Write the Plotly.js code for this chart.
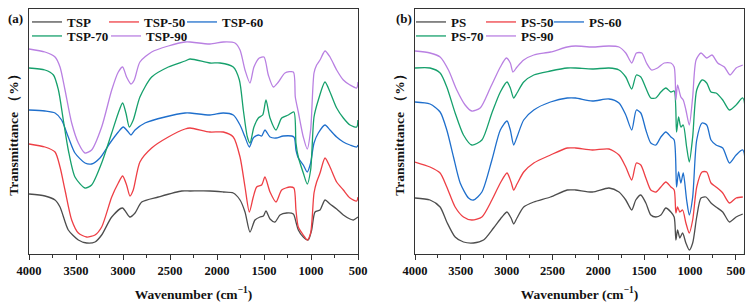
<!DOCTYPE html>
<html><head><meta charset="utf-8">
<script src="https://cdn.plot.ly/plotly-3.0.1.min.js"></script>
<style>html,body{margin:0;padding:0;background:#fff}#chart{width:753px;height:307px}</style>
</head><body><div id="chart"></div>
<script>
// ---------- Panel (a) data: wavenumber (cm-1) and offset transmittance (a.u.) ----------
const tspX   = [4000,3830,3723,3670,3582,3475,3387,3298,3227,3120,3007,2926,2872,2801,2624,2375,2287,2075,1933,1827,1755,1702,1649,1596,1543,1507,1479,1436,1383,1330,1259,1188,1160,1135,1082,1029,993,957,904,851,798,727,656,585,550,500];
const tspY   = [60,58,54,47,24,14,11,12,19,37,46,37,41,52,57,63,63,63,62,61,54,42,22,34,37,38,43,35,32,39,41,40,32,24,17,14,24,42,44,54,50,45,39,35,34,37];
const tsp50X = [4000,3830,3723,3670,3617,3546,3475,3387,3298,3227,3120,3050,3004,2962,2926,2891,2820,2695,2518,2340,2287,2075,1933,1827,1755,1702,1656,1614,1578,1525,1490,1436,1372,1312,1224,1182,1160,1135,1082,1040,1004,968,940,904,851,798,727,656,585,514,500];
const tsp50Y = [110,107,102,87,64,34,21,17,19,27,57,71,78,69,58,64,92,106,117,125,126,122,122,117,97,67,42,57,67,69,77,62,52,64,67,66,44,27,19,14,21,61,72,81,96,87,72,64,56,53,57];
const tsp60X = [4000,3830,3723,3653,3582,3511,3404,3334,3245,3138,3050,2997,2944,2915,2872,2766,2553,2340,2287,2075,1933,1827,1755,1702,1656,1614,1560,1525,1490,1436,1372,1295,1182,1160,1135,1082,1040,1004,968,922,851,798,727,656,585,514,500];
const tsp60Y = [144,143,141,134,117,101,91,90,96,111,122,127,122,119,124,131,137,141,141,139,141,139,129,117,107,116,119,118,124,117,116,118,117,104,96,89,82,91,111,121,129,124,117,112,109,107,109];
const tsp70X = [4000,3830,3740,3687,3635,3582,3511,3404,3334,3227,3120,3050,3004,2969,2933,2891,2820,2695,2518,2340,2287,2075,1968,1827,1762,1720,1677,1649,1607,1560,1514,1479,1436,1372,1312,1241,1182,1160,1135,1082,1040,1004,968,922,851,798,727,656,585,514,500];
const tsp70Y = [186,184,179,164,134,104,77,66,69,91,121,141,151,141,127,134,157,177,187,193,195,191,191,187,174,144,117,111,127,136,139,154,136,124,136,139,142,111,97,81,70,84,137,154,172,162,146,136,129,127,134];
const tsp90X = [4000,3830,3723,3670,3617,3546,3475,3404,3334,3227,3120,3050,3004,2962,2915,2880,2820,2695,2518,2340,2287,2075,1933,1809,1755,1702,1649,1607,1550,1500,1454,1400,1347,1277,1188,1167,1135,1082,1040,1004,968,940,904,851,798,727,656,585,514,500];
const tsp90Y = [205,202,197,187,164,131,111,101,104,127,164,182,187,177,170,174,192,202,208,212,212,210,212,211,204,184,171,187,196,197,179,167,172,181,182,157,142,117,105,124,181,189,194,203,197,184,174,169,166,172];

// ---------- Panel (b) data ----------
const psX   = [4000,3836,3726,3653,3562,3471,3362,3252,3143,3051,2996,2952,2923,2887,2814,2704,2522,2339,2248,2065,1883,1774,1700,1635,1591,1536,1481,1427,1372,1317,1263,1208,1172,1153,1135,1110,1080,1044,1007,970,926,879,825,770,715,642,569,496,423];
const psY   = [56,54,47,32,17,12,11,14,26,37,42,36,30,36,47,52,57,64,64,62,66,62,54,44,54,59,51,39,37,39,46,42,37,14,24,16,21,11,4,11,37,56,57,51,47,42,32,37,40];
const ps50X = [4000,3836,3726,3653,3562,3471,3380,3270,3161,3069,2996,2952,2923,2887,2814,2704,2522,2339,2248,2065,1883,1774,1700,1635,1584,1536,1481,1427,1372,1317,1263,1208,1172,1153,1135,1110,1080,1044,1007,970,926,868,817,770,715,642,569,496,423];
const ps50Y = [92,87,81,67,47,37,34,37,54,71,81,72,64,70,82,91,99,106,106,104,105,99,87,74,91,89,76,64,62,67,72,67,64,41,47,42,44,31,21,34,67,82,82,71,67,61,51,56,57];
const ps60X = [4000,3836,3726,3653,3580,3507,3416,3362,3270,3161,3069,2996,2960,2923,2887,2814,2704,2522,2339,2248,2065,1883,1774,1700,1635,1584,1536,1481,1427,1372,1317,1263,1208,1172,1146,1124,1099,1073,1036,1007,970,926,868,817,770,715,642,569,496,423,412];
const ps60Y = [152,150,142,124,97,71,56,54,62,94,124,133,124,109,117,134,144,152,156,156,153,155,151,139,124,144,141,124,111,109,117,122,117,114,67,82,71,81,54,39,57,114,131,129,114,109,106,91,99,104,-30];
const ps70X = [4000,3836,3726,3653,3562,3471,3380,3270,3161,3069,2996,2960,2923,2887,2814,2704,2522,2339,2248,2065,1883,1774,1700,1635,1584,1536,1481,1427,1372,1317,1263,1208,1172,1146,1124,1099,1073,1036,1007,970,926,868,817,770,715,642,569,496,423,412];
const ps70Y = [186,186,181,167,141,119,109,114,141,162,172,166,156,161,172,179,183,186,186,185,186,184,177,165,179,177,166,156,156,162,166,162,163,122,137,127,129,107,92,117,164,174,171,162,161,154,144,149,156,-30];
const ps90X = [4000,3836,3726,3635,3544,3453,3380,3289,3179,3069,3003,2960,2931,2887,2814,2704,2522,2339,2248,2065,1883,1774,1700,1635,1584,1525,1474,1419,1354,1281,1208,1172,1153,1135,1099,1073,1044,1007,970,933,879,817,759,697,624,562,496,423];
const ps90Y = [203,201,197,184,164,149,143,146,166,187,196,191,182,187,194,199,202,207,208,207,208,207,201,191,201,201,191,184,186,191,191,187,154,169,157,154,144,129,157,194,201,196,199,191,187,179,186,189];

const namesA = ['TSP','TSP-50','TSP-60','TSP-70','TSP-90'];
const namesB = ['PS','PS-50','PS-60','PS-70','PS-90'];
const colors = ['#4d4d4d','#ee3f45','#1f6fcc','#16a06c','#b980e2'];

const serif = 'Liberation Serif, Times New Roman, serif';
const dataA = [[tspX,tspY],[tsp50X,tsp50Y],[tsp60X,tsp60Y],[tsp70X,tsp70Y],[tsp90X,tsp90Y]];
const dataB = [[psX,psY],[ps50X,ps50Y],[ps60X,ps60Y],[ps70X,ps70Y],[ps90X,ps90Y]];

const traces = [];
dataA.forEach((d,i)=>traces.push({x:d[0],y:d[1],name:namesA[i],type:'scatter',mode:'lines',
  line:{color:colors[i],width:1.3,shape:'spline',smoothing:0.7},xaxis:'x',yaxis:'y',
  legend: i===0 ? 'legend' : 'legend'+(i+1)}));
dataB.forEach((d,i)=>traces.push({x:d[0],y:d[1],name:namesB[i],type:'scatter',mode:'lines',
  line:{color:colors[i],width:1.3,shape:'spline',smoothing:0.7},xaxis:'x2',yaxis:'y2',
  legend: 'legend'+(i+6)}));

const W=753,H=307;
const frame = '#333';
function xax(domain, range, anchor){
  return {domain:domain, range:range, anchor:anchor, showline:true, mirror:true, linecolor:frame, linewidth:1,
    ticks:'outside', ticklen:5, tickwidth:1, tickcolor:frame, tick0:0, dtick:500,
    minor:{ticks:'outside', ticklen:3, tickwidth:1, tickcolor:frame, dtick:250},
    showgrid:false, zeroline:false,
    tickfont:{family:serif,size:12.5,color:'#111',weight:'bold'},
    title:{text:'Wavenumber (cm<sup>−1</sup>)', font:{family:serif,size:13.5,color:'#111',weight:'bold'}, standoff:12}};
}
function yax(domain, anchor){
  return {domain:domain, range:[0,245], anchor:anchor, showline:true, mirror:true, linecolor:frame, linewidth:1,
    ticks:'', showticklabels:false, showgrid:false, zeroline:false,
    title:{text:'Transmittance （%）', font:{family:serif,size:13.5,color:'#111',weight:'bold'}, standoff:6}};
}
function leg(xpx, ypx){
  return {x:xpx/W, y:1-ypx/H, xanchor:'left', yanchor:'top', orientation:'h',
    bgcolor:'rgba(0,0,0,0)', borderwidth:0,
    font:{family:serif,size:13,color:'#111',weight:'bold'}, itemwidth:30, tracegroupgap:0};
}
// text-left x positions (px) of each legend entry in the reference, minus the sample offset
const legPos = [[27,7],[104,7],[182,7],[27,21],[106,21],[411,7],[481,7],[549,7],[411,21],[481,21]];
const ydom = [53/H, 298/H];
const layout = {
  width:W, height:H, margin:{l:0,r:0,t:0,b:0}, paper_bgcolor:'#fff', plot_bgcolor:'#fff',
  showlegend:true,
  xaxis: xax([29/W, 358/W],[4000,500],'y'),
  yaxis: yax(ydom,'x'),
  xaxis2: xax([415/W, 744/W],[4000,410],'y2'),
  yaxis2: yax(ydom,'x2'),
  annotations:[
    {text:'(a)', x:15/W, y:1-18/H, xref:'paper', yref:'paper', xanchor:'center', yanchor:'middle', showarrow:false, font:{family:serif,size:13,color:'#111',weight:'bold'}},
    {text:'(b)', x:404/W, y:1-18/H, xref:'paper', yref:'paper', xanchor:'center', yanchor:'middle', showarrow:false, font:{family:serif,size:13,color:'#111',weight:'bold'}}
  ]
};
legPos.forEach((p,i)=>{ layout[i===0 ? 'legend' : 'legend'+(i+1)] = leg(p[0],p[1]); });
Plotly.newPlot('chart', traces, layout, {staticPlot:true, displayModeBar:false});
</script></body></html>
